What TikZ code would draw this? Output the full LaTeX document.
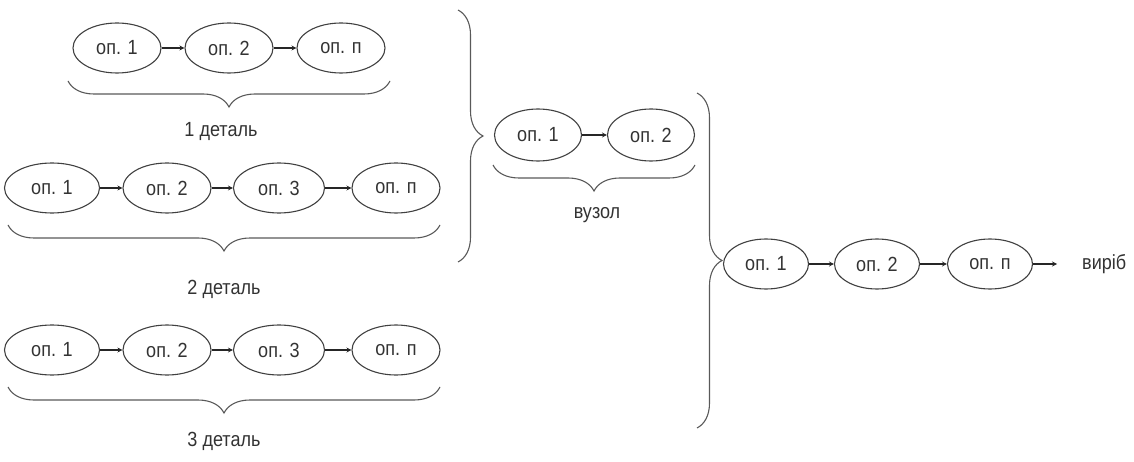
\documentclass[tikz,border=0pt]{standalone}
\usepackage{fontspec}
\setmainfont{Liberation Sans}[FakeStretch=0.88]
\usetikzlibrary{shapes.geometric,decorations.pathreplacing,arrows.meta}
\begin{document}
\begin{tikzpicture}[x=1pt,y=1pt,
  op/.style={draw=black!75,line width=1.1pt,ellipse,inner sep=0pt,minimum width=88pt,minimum height=50pt,font=\fontsize{20.5}{22}\selectfont,text=black!80},
  lbl/.style={font=\fontsize{20.5}{22}\selectfont,text=black!80},
  conn/.style={draw=black!85,line width=1.1pt,-{Stealth[length=5pt,width=5pt]}},
  brc/.style={draw=black!65,line width=1.1pt,decorate,decoration={brace,amplitude=#1,aspect=0.5}},
  brc/.default=26pt]
\useasboundingbox (0,0) rectangle (1134,-462);
% row 1
\node[op] (a1) at (117,-48) {оп. 1};
\node[op] (a2) at (229,-48) {оп. 2};
\node[op] (a3) at (341,-48) {оп. п};
\draw[conn] (a1) -- (a2);
\draw[conn] (a2) -- (a3);
\coordinate (b1r) at (390,-81);
\coordinate (b1l) at (68,-81);
\draw[brc] (b1r) -- (b1l);
\node[lbl] (l1) at (221,-131) {1 деталь};
% row 2
\node[op,minimum width=95pt] (b1) at (52,-188) {оп. 1};
\node[op] (b2) at (167,-188) {оп. 2};
\node[op,minimum width=91pt] (b3) at (279,-188) {оп. 3};
\node[op] (b4) at (396,-188) {оп. п};
\draw[conn] (b1) -- (b2);
\draw[conn] (b2) -- (b3);
\draw[conn] (b3) -- (b4);
\coordinate (b2r) at (440,-225);
\coordinate (b2l) at (8,-225);
\draw[brc] (b2r) -- (b2l);
\node[lbl] (l2) at (224,-289) {2 деталь};
% row 3
\node[op,minimum width=95pt] (c1) at (52,-350) {оп. 1};
\node[op] (c2) at (167,-350) {оп. 2};
\node[op,minimum width=91pt] (c3) at (279,-350) {оп. 3};
\node[op] (c4) at (396,-350) {оп. п};
\draw[conn] (c1) -- (c2);
\draw[conn] (c2) -- (c3);
\draw[conn] (c3) -- (c4);
\coordinate (b3r) at (440,-387);
\coordinate (b3l) at (8,-387);
\draw[brc] (b3r) -- (b3l);
\node[lbl] (l3) at (224,-441) {3 деталь};
% big brace 1
\coordinate (B1t) at (458,-10);
\coordinate (B1b) at (458,-262);
\draw[brc=25pt] (B1t) -- (B1b);
% vuzol
\node[op,minimum width=87pt,minimum height=52pt] (d1) at (538,-135) {оп. 1};
\node[op,minimum width=87pt,minimum height=52pt] (d2) at (651,-135) {оп. 2};
\draw[conn] (d1) -- (d2);
\coordinate (bdr) at (695,-165);
\coordinate (bdl) at (493,-165);
\draw[brc] (bdr) -- (bdl);
\node[lbl] (ld) at (597,-215) {вузол};
% big brace 2
\coordinate (B2t) at (697,-93);
\coordinate (B2b) at (697,-428);
\draw[brc=25pt] (B2t) -- (B2b);
% final
\node[op,minimum width=85pt] (e1) at (766,-264) {оп. 1};
\node[op,minimum width=85pt] (e2) at (877,-264) {оп. 2};
\node[op,minimum width=85pt] (e3) at (990,-264) {оп. п};
\node[lbl,anchor=west,inner sep=0pt] (out) at (1082,-264) {виріб};
\draw[conn] (e1) -- (e2);
\draw[conn] (e2) -- (e3);
\coordinate (eo) at (1057,-264);
\draw[conn] (e3) -- (eo);
\end{tikzpicture}
\end{document}
